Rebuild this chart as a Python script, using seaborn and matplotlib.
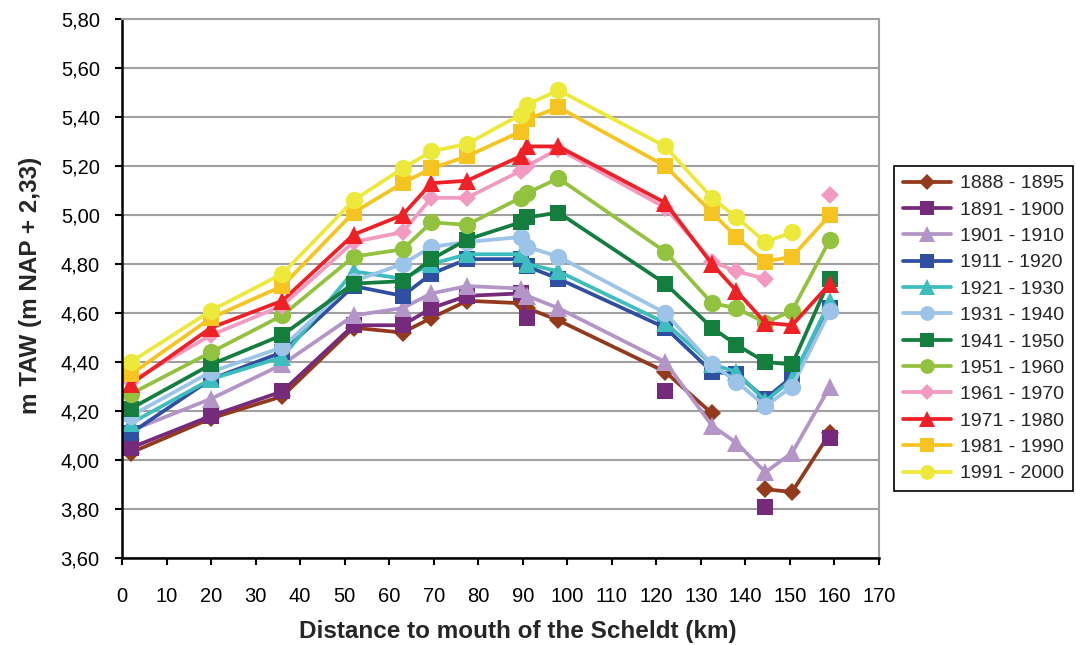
import numpy as np
import pandas as pd
import matplotlib.pyplot as plt
from matplotlib.lines import Line2D
from matplotlib.ticker import FuncFormatter, MultipleLocator
import seaborn as sns

nan = np.nan

# afstand tot de monding (km)
distance = [2, 20, 36, 52, 63, 69.5, 77.5, 89.5, 91, 98, 122, 132.5, 138, 144.5, 150.5, 159]

periods = ["1888 - 1895", "1891 - 1900", "1901 - 1910", "1911 - 1920",
           "1921 - 1930", "1931 - 1940", "1941 - 1950", "1951 - 1960",
           "1961 - 1970", "1971 - 1980", "1981 - 1990", "1991 - 2000"]

p1888 = [4.03, 4.17, 4.26, 4.54, 4.52, 4.58, 4.65, 4.64, 4.62, 4.57, 4.36, 4.19, nan, 3.88, 3.87, 4.11]
p1891 = [4.05, 4.18, 4.28, 4.55, 4.55, 4.62, 4.67, 4.68, 4.58, nan, 4.28, nan, nan, 3.81, nan, 4.09]
p1901 = [4.12, 4.25, 4.39, 4.59, 4.62, 4.68, 4.71, 4.70, 4.67, 4.62, 4.40, 4.14, 4.07, 3.95, 4.03, 4.30]
p1911 = [4.11, 4.33, 4.44, 4.71, 4.67, 4.76, 4.82, 4.82, 4.79, 4.74, 4.54, 4.36, 4.35, 4.25, 4.34, 4.62]
p1921 = [4.15, 4.33, 4.42, 4.77, 4.74, 4.80, 4.84, 4.84, 4.80, 4.77, 4.56, 4.39, 4.36, 4.24, 4.33, 4.65]
p1931 = [4.18, 4.36, 4.46, 4.73, 4.80, 4.87, 4.89, 4.91, 4.87, 4.83, 4.60, 4.39, 4.32, 4.22, 4.30, 4.61]
p1941 = [4.21, 4.39, 4.51, 4.72, 4.73, 4.82, 4.90, 4.97, 4.99, 5.01, 4.72, 4.54, 4.47, 4.40, 4.39, 4.74]
p1951 = [4.27, 4.44, 4.59, 4.83, 4.86, 4.97, 4.96, 5.07, 5.09, 5.15, 4.85, 4.64, 4.62, 4.56, 4.61, 4.90]
p1961 = [4.32, 4.51, 4.63, 4.89, 4.93, 5.07, 5.07, 5.18, 5.20, 5.27, 5.03, 4.81, 4.77, 4.74, nan, 5.08]
p1971 = [4.31, 4.54, 4.65, 4.92, 5.00, 5.13, 5.14, 5.24, 5.28, 5.28, 5.05, 4.80, 4.69, 4.56, 4.55, 4.72]
p1981 = [4.35, 4.58, 4.71, 5.01, 5.13, 5.19, 5.24, 5.34, 5.39, 5.44, 5.20, 5.01, 4.91, 4.81, 4.83, 5.00]
p1991 = [4.40, 4.61, 4.76, 5.06, 5.19, 5.26, 5.29, 5.41, 5.45, 5.51, 5.28, 5.07, 4.99, 4.89, 4.93, nan]

values = [p1888, p1891, p1901, p1911, p1921, p1931, p1941, p1951, p1961, p1971, p1981, p1991]

colors = ["#933A1C", "#762A7C", "#B495C8", "#2F50A2", "#3DBDBE", "#9CC3E8",
          "#137E3E", "#93C23F", "#F29AC1", "#EE2126", "#F6C420", "#EDE93B"]
markers = ["D", "s", "^", "s", "^", "o", "s", "o", "D", "^", "s", "o"]
msizes = {"D": 9.0, "s": 11.5, "^": 13.5, "o": 12.5}

sns.set_style("white")
plt.rcParams["font.family"] = ["Liberation Sans", "DejaVu Sans"]

fig = plt.figure(figsize=(10.76, 6.45), dpi=100)
ax = fig.add_axes([0.1134, 0.1349, 0.7035, 0.8356])

handles = []
for name, vals, col, mk in zip(periods, values, colors, markers):
    df = pd.DataFrame({"km": distance, "level": vals})
    # een ontbrekende waarde onderbreekt de lijn
    df["segment"] = df["level"].isna().cumsum()
    df = df.dropna()
    sns.lineplot(data=df, x="km", y="level", units="segment", estimator=None,
                 color=col, marker=mk, markersize=msizes[mk], markeredgewidth=0,
                 linewidth=2.7, ax=ax, legend=False)
    handles.append(Line2D([0], [0], color=col, marker=mk, markersize=msizes[mk] * 0.85,
                          markeredgewidth=0, linewidth=2.7, label=name))

ax.set_xlim(0, 170)
ax.set_ylim(3.6, 5.8)
ax.xaxis.set_major_locator(MultipleLocator(10))
ax.yaxis.set_major_locator(MultipleLocator(0.2))
ax.yaxis.set_major_formatter(FuncFormatter(lambda v, p: f"{v:.2f}".replace(".", ",")))

ax.grid(axis="y", color="#A0A0A0", linewidth=1.5)
ax.grid(axis="x", visible=False)
ax.set_axisbelow(True)
for side in ["left", "bottom"]:
    ax.spines[side].set_color("black")
    ax.spines[side].set_linewidth(1.8)
for side in ["top", "right"]:
    ax.spines[side].set_color("#A0A0A0")
    ax.spines[side].set_linewidth(1.5)

ax.tick_params(axis="both", which="major", direction="out", length=5, width=1.5,
               color="black", labelsize=14.5, labelcolor="black")
ax.tick_params(axis="y", pad=11)
ax.tick_params(axis="x", pad=16, bottom=True)
ax.tick_params(axis="y", left=True)

ax.set_xlabel("Distance to mouth of the Scheldt (km)", fontsize=17.5, fontweight="bold")
ax.set_ylabel("m TAW (m NAP + 2,33)", fontsize=17.5, fontweight="bold")
ax.xaxis.set_label_coords(0.523, -0.115)
ax.yaxis.set_label_coords(-0.106, 0.506)

leg = fig.legend(handles=handles, loc="upper left", bbox_to_anchor=(0.8309, 0.7426),
                 bbox_transform=fig.transFigure, borderaxespad=0, fontsize=14,
                 frameon=True, fancybox=False, edgecolor="black", framealpha=1,
                 handlelength=2.5, handletextpad=0.45, labelspacing=0.45, borderpad=0.45)
leg.get_frame().set_linewidth(1.2)

fig.savefig("out.png", dpi=100)
